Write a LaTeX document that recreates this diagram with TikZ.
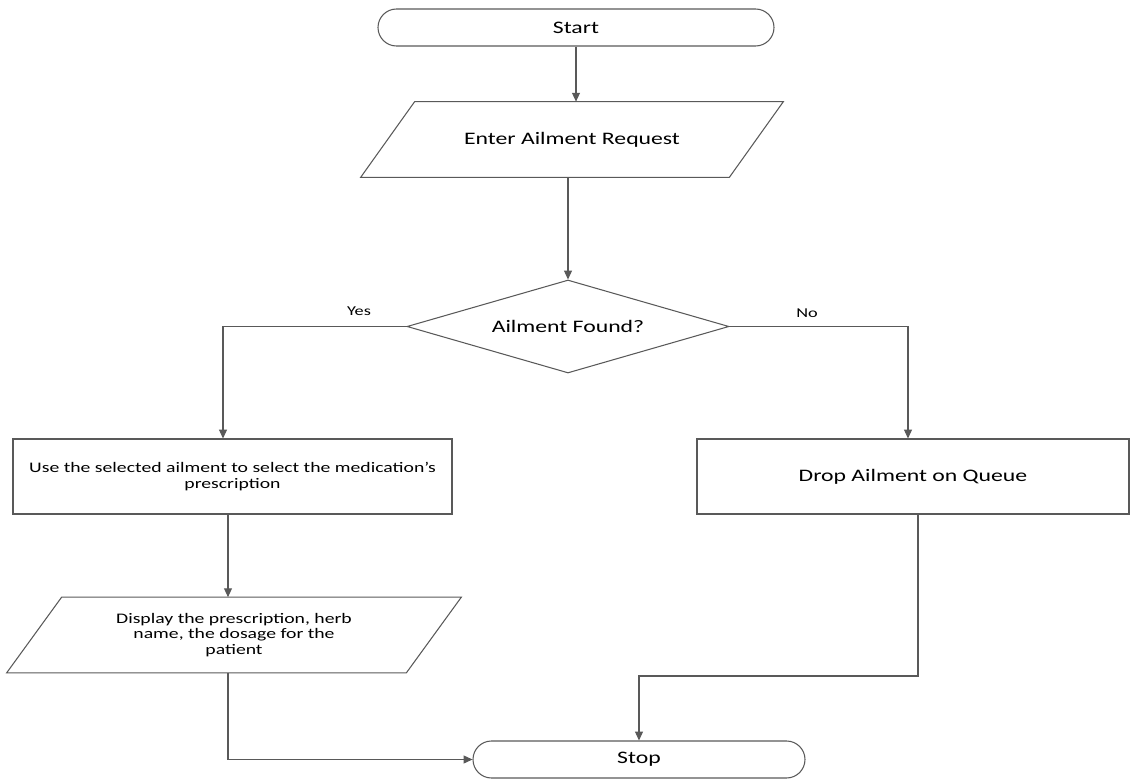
\documentclass[tikz,border=0pt]{standalone}
\usepackage{fontspec}
\setmainfont{Carlito}[FakeStretch=1.35]
\usetikzlibrary{shapes.geometric,shapes.misc,arrows.meta}

\begin{document}
\begin{tikzpicture}[
  flowline/.style={draw=black!65, line width=0.6pt},
  arr/.style={flowline, -{Triangle[length=5pt,width=4.5pt]}},
  bigtext/.style={font=\fontsize{10}{12}\selectfont},
  smalltext/.style={font=\fontsize{8.3}{8.8}\selectfont},
  labeltext/.style={font=\fontsize{7.7}{9}\selectfont},
  term/.style={flowline, rounded rectangle, minimum width=#1, minimum height=0.74cm, inner sep=0pt, bigtext},
  io/.style={rectangle, minimum height=1.5cm, inner sep=0pt, align=center},
  proc/.style={flowline, rectangle, minimum height=1.5cm, inner sep=0pt, align=center},
]
\useasboundingbox (0,0) rectangle (22.62,-15.62);

\node[term=7.92cm] (start) at (11.52,-0.55) {Start};
\node[io, minimum width=8.44cm, bigtext] (enter) at (11.44,-2.79) {Enter Ailment Request};
\node[flowline, diamond, aspect=3.46, minimum width=6.44cm, minimum height=1.86cm, inner sep=0pt, bigtext] (found) at (11.36,-6.53) {Ailment Found?};
\node[proc, minimum width=8.78cm, smalltext] (use) at (4.65,-9.53) {Use the selected ailment to select the medication’s\\prescription};
\node[proc, minimum width=8.64cm, bigtext] (drop) at (18.26,-9.53) {Drop Ailment on Queue};
\node[io, minimum width=9.08cm, smalltext] (show) at (4.68,-12.70) {Display the prescription, herb\\name, the dosage for the\\patient};
\node[term=6.64cm] (stop) at (12.78,-15.19) {Stop};

\draw[flowline] ([xshift=1.08cm]enter.north west) -- (enter.north east) -- ([xshift=-1.08cm]enter.south east) -- (enter.south west) -- cycle;
\draw[flowline] ([xshift=1.1cm]show.north west) -- (show.north east) -- ([xshift=-1.1cm]show.south east) -- (show.south west) -- cycle;

\node[labeltext] (yes) at (7.18,-6.22) {Yes};
\node[labeltext] (no) at (16.14,-6.26) {No};

\draw[arr] (start.south) -- (start.south |- enter.north);
\draw[arr] (found.north |- enter.south) -- (found.north);
\draw[arr] (found.west) -| ([xshift=-0.19cm]use.north);
\draw[arr] (found.east) -| ([xshift=-0.1cm]drop.north);
\draw[arr] ([xshift=-0.09cm]use.south) -- ([xshift=-0.09cm]use.south |- show.north);
\draw[arr] ([xshift=-0.09cm]use.south |- show.south) |- (stop.west);

\coordinate (join) at (12.78,-13.52);
\draw[arr] ([xshift=0.1cm]drop.south) |- (join) -- (stop.north);
\end{tikzpicture}
\end{document}
